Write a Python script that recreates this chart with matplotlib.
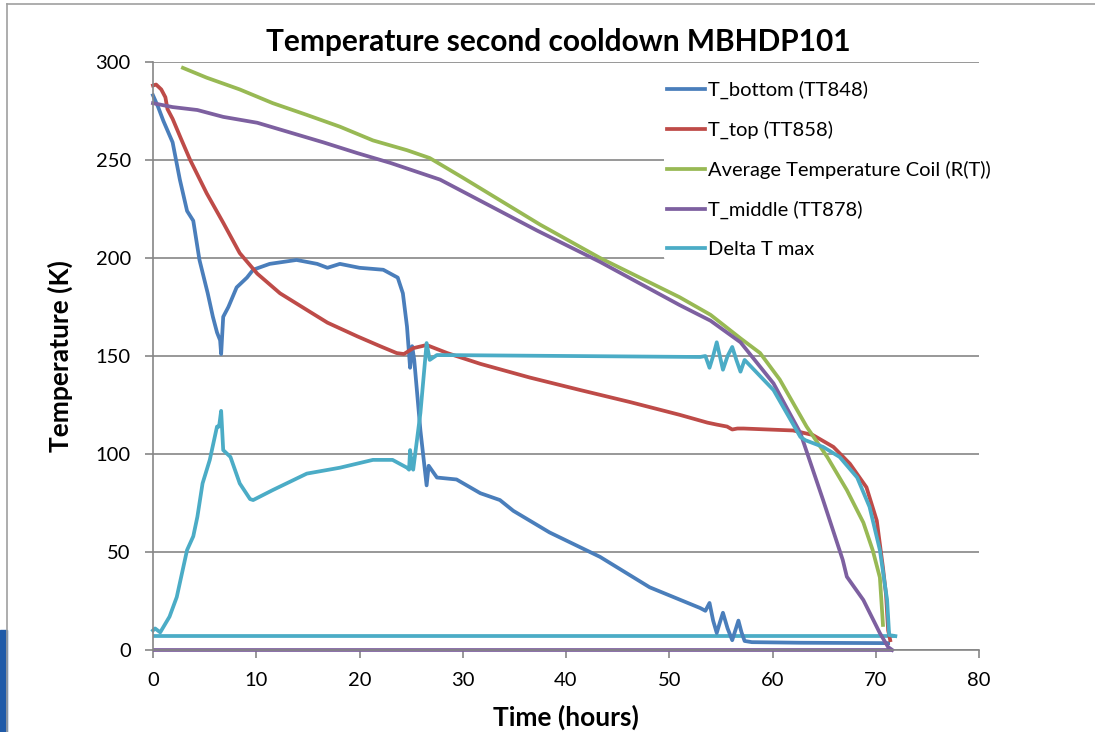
import matplotlib
matplotlib.use('Agg')
import matplotlib.pyplot as plt
from matplotlib.lines import Line2D
from matplotlib.patches import Rectangle

plt.rcParams['font.family'] = ['Lato', 'DejaVu Sans']

# T_bottom (TT848)
bot_t = [0, 0.5, 1.0, 1.9, 2.6, 3.3, 3.9, 4.5, 5.3, 5.8, 6.2, 6.5, 6.6, 6.8, 7.3, 8.1, 9.1, 9.7,
         11.3, 13.9, 15.9, 16.9, 18.1, 20.0, 22.3, 23.7, 24.2, 24.6, 24.9, 25.1, 25.3, 25.9, 26.5,
         26.7, 27.5, 29.4, 31.7, 33.6, 34.9, 38.4, 43.3, 48.1, 53.0, 53.5, 53.9, 54.25, 54.6, 54.9,
         55.2, 55.65, 56.1, 56.4, 56.7, 57.0, 57.3, 58.0, 62.7, 71.2]
bot_T = [283, 277, 270, 259, 240, 224, 219, 199, 182, 170, 162, 158, 151, 170, 175, 185, 190, 194,
         197, 199, 197, 195, 197, 195, 194, 190, 182, 165, 144, 155, 148, 112, 84,
         94, 88, 87, 80, 76.5, 71, 60, 47.5, 32, 21.4, 20, 24, 15, 8.7, 14,
         19, 11, 5, 10, 15, 9, 4.6, 4, 3.7, 3.5]

# T_top (TT858)
top_t = [0, 0.3, 0.8, 1.2, 1.4, 1.5, 1.9, 2.7, 3.6, 5.2, 6.8, 8.4, 10.1, 12.3, 14.9, 16.9, 19.8,
         22.0, 23.6, 24.3, 25.2, 26.5, 28.5, 31.7, 36.5, 41.4, 46.2, 51.0, 53.7, 54.6, 55.6, 56.1,
         56.6, 57.2, 62.0, 63.9, 65.9, 67.5, 69.1, 70.1, 70.7, 71.0, 71.2, 71.4]
top_T = [288, 288.5, 286, 282, 276, 275, 271, 261, 250, 233, 218, 202.5, 192, 182, 173.5, 167, 160,
         155, 151.5, 151, 154, 155.6, 151.5, 146, 139, 132.6, 126.5, 120, 116, 115, 114, 112.5,
         113, 113, 112, 109.7, 103.6, 95, 83, 66, 42, 28, 10, 5]

# Average Temperature Coil (R(T))
coil_t = [2.9, 5.2, 8.4, 11.6, 14.9, 18.1, 21.3, 24.6, 26.8, 30.0, 37.5, 43.3, 51.0, 54.0, 56.9,
          58.8, 60.7, 63.3, 65.3, 67.2, 68.8, 69.7, 70.4, 70.7]
coil_T = [297, 292, 286, 279, 273, 267, 260, 255, 251, 241, 217, 200, 180, 171, 159,
          151.5, 138, 114, 98.5, 81.6, 65, 51, 37, 12.8]

# T_middle (TT878)
mid_t = [0, 1.9, 4.3, 6.8, 10.1, 13.3, 16.5, 19.8, 23.0, 27.8, 37.2, 43.3, 51.0, 54.0, 56.9, 60.1,
         62.7, 64.9, 66.8, 67.2, 68.8, 70.4, 71.2, 71.6]
mid_T = [279, 277, 275.5, 272, 269, 264, 259, 253.5, 248.5, 240, 214, 198, 176, 168, 157, 136,
         110.7, 76.5, 46, 37.4, 25.5, 8.6, 1.5, 0]
mid_base_t = [0, 71.6]
mid_base_T = [0, 0]

# Delta T max
dtm_t = [0, 0.2, 0.7, 1.6, 2.3, 3.3, 3.9, 4.3, 4.8, 5.5, 6.2, 6.4, 6.6, 6.8, 7.5, 8.4, 9.4, 9.7,
         11.6, 14.9, 18.1, 21.3, 23.2, 24.6, 24.8, 24.9, 25.1, 25.2, 25.9, 26.5, 26.8, 27.5,
         53.0, 53.5, 53.9, 54.25, 54.6, 54.9, 55.2, 55.65, 56.1, 56.5, 56.9, 57.3, 60.1, 62.7,
         63.2, 64.9, 66.5, 68.2, 69.4, 70.4, 71.1, 71.3, 71.9]
dtm_T = [10, 11, 9, 17, 27, 51, 58, 68, 85, 97, 114, 114, 122, 102, 98.5, 85, 77, 76.5,
         81.6, 90, 93, 97, 97, 93, 92, 102, 93, 92, 121, 156.6, 148, 150.5,
         149.5, 150, 144, 150, 157, 150, 143, 150, 154.6, 148, 142, 148, 132.6, 108.7,
         107, 103.6, 98.5, 88, 73, 51, 25.5, 7.6, 7.1]
dtm_base_t = [0, 71.9]
dtm_base_T = [7.1, 7.1]

labels = ['T_bottom (TT848)', 'T_top (TT858)', 'Average Temperature Coil (R(T))',
          'T_middle (TT878)', 'Delta T max']
colors = ['#4A7EBB', '#BE4B48', '#98B954', '#7D60A0', '#4BACC6']
grey = '#868686'
lw = 2.7

fig = plt.figure(figsize=(10.95, 7.32), dpi=100)
ax = fig.add_axes([153 / 1095, 1 - 650 / 732, (979 - 153) / 1095, (650 - 62) / 732])

ax.plot(mid_base_t, mid_base_T, color=colors[3], lw=lw, clip_on=False, solid_capstyle='butt')
ax.plot(dtm_base_t, dtm_base_T, color=colors[4], lw=lw, clip_on=False, solid_capstyle='butt')
ax.plot(bot_t, bot_T, color=colors[0], lw=lw, label=labels[0], clip_on=False)
ax.plot(top_t, top_T, color=colors[1], lw=lw, label=labels[1], clip_on=False)
ax.plot(coil_t, coil_T, color=colors[2], lw=lw, label=labels[2], clip_on=False)
ax.plot(mid_t, mid_T, color=colors[3], lw=lw, label=labels[3], clip_on=False)
ax.plot(dtm_t, dtm_T, color=colors[4], lw=lw, label=labels[4], clip_on=False)

ax.set_xlim(0, 80)
ax.set_ylim(0, 300)
ax.set_xticks(range(0, 81, 10))
ax.set_yticks(range(0, 301, 50))
ax.grid(axis='y', color=grey, lw=1.2)
ax.set_axisbelow(True)
for s in ['top', 'right']:
    ax.spines[s].set_visible(False)
for s in ['left', 'bottom']:
    ax.spines[s].set_color(grey)
    ax.spines[s].set_linewidth(1.2)
ax.tick_params(direction='out', length=6, width=1.2, color=grey, labelsize=14.5)
ax.tick_params(axis='x', pad=10)
ax.tick_params(axis='y', pad=10)

ax.set_xlabel('Time (hours)', fontsize=19, fontweight='bold', labelpad=11)
ax.set_ylabel('Temperature (K)', fontsize=19, fontweight='bold', labelpad=16)
fig.text(0.510, 1 - 42 / 732, 'Temperature second cooldown MBHDP101', ha='center', va='center',
         fontsize=21.5, fontweight='bold')

leg = ax.legend(loc='upper left', bbox_to_anchor=(664 / 1095, 1 - 78 / 732),
                bbox_transform=fig.transFigure, fontsize=14.5, frameon=True, framealpha=1,
                facecolor='white', edgecolor='none', borderaxespad=0, borderpad=0.15,
                handlelength=1.9, handletextpad=0.12, labelspacing=1.08)

# slide frame remnants
fig.add_artist(Line2D([7 / 1095, 1], [1 - 4 / 732, 1 - 4 / 732], color='#A0A0A0', lw=1.2))
fig.add_artist(Line2D([7 / 1095, 7 / 1095], [0, 1 - 4 / 732], color='#A0A0A0', lw=1.2))
fig.add_artist(Rectangle((0, 0), 7 / 1095, 102 / 732, color='#1F5AA8', transform=fig.transFigure))

fig.savefig('out.png', dpi=100)
